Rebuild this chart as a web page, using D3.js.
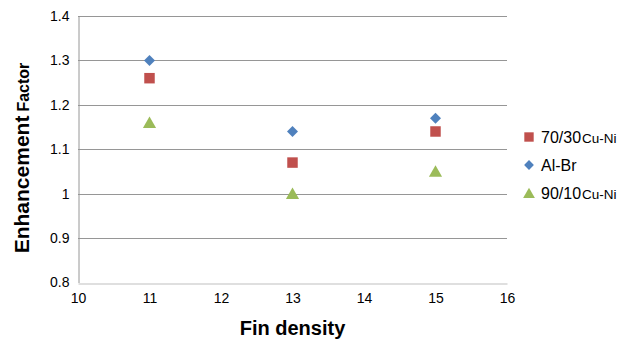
<!DOCTYPE html>
<html>
<head>
<meta charset="utf-8">
<script src="https://cdn.jsdelivr.net/npm/d3@7"></script>
<style>
  body { margin: 0; background: #fff; }
  text { font-family: "Liberation Sans", Arial, sans-serif; }
</style>
</head>
<body>
<script>
// data
const finDensity = [11, 13, 15];
const cuNi7030 = [1.26, 1.07, 1.14];
const alBr = [1.30, 1.14, 1.17];
const cuNi9010 = [1.16, 1.00, 1.05];
const xTicks = [10, 11, 12, 13, 14, 15, 16];
const yTicks = [0.8, 0.9, 1, 1.1, 1.2, 1.3, 1.4];

const w = 629, h = 344;
const padL = 78, padR = 507, padT = 16, padB = 282.5;

const red = "#C0504D", blue = "#4F81BD", green = "#9BBB59";

const svg = d3.select("body").append("svg")
  .attr("width", w).attr("height", h);

const xScale = d3.scaleLinear().domain([10, 16]).range([padL, padR]);
const yScale = d3.scaleLinear().domain([0.8, 1.4]).range([padB, padT]);

// gridlines
svg.append("g").selectAll("line")
  .data(yTicks.filter(d => d > 0.8))
  .enter().append("line")
  .attr("x1", padL).attr("x2", padR)
  .attr("y1", d => Math.round(yScale(d)) + 0.5)
  .attr("y2", d => Math.round(yScale(d)) + 0.5)
  .attr("stroke", "#969696").attr("stroke-width", 1);

// y axis
const yAxis = d3.axisLeft(yScale).tickValues(yTicks)
  .tickFormat(d => d3.format("")(d)).tickSize(0).tickPadding(9);
const gy = svg.append("g")
  .attr("transform", `translate(${padL + 0.5},0)`)
  .call(yAxis);
gy.select(".domain").attr("stroke", "#969696");
gy.selectAll("text").style("font-size", "14px").attr("fill", "#000");

// x axis
const xAxis = d3.axisBottom(xScale).tickValues(xTicks)
  .tickFormat(d3.format("d")).tickSize(0).tickPadding(10);
const gx = svg.append("g")
  .attr("transform", `translate(0,${Math.round(padB) + 0.5})`)
  .call(xAxis);
gx.select(".domain").attr("stroke", "#bfbfbf");
gx.selectAll("text").style("font-size", "14px").attr("fill", "#000");

// markers (diamond = square turned 45deg)
const series = [
  { name: "70/30", suffix: "Cu-Ni", values: cuNi7030, color: red, shape: d3.symbolSquare, size: 110, rot: 0, dy: 0 },
  { name: "Al-Br", suffix: "", values: alBr, color: blue, shape: d3.symbolSquare, size: 60, rot: 45, dy: 0 },
  { name: "90/10", suffix: "Cu-Ni", values: cuNi9010, color: green, shape: d3.symbolTriangle, size: 75, rot: 0, dy: 1.5 }
];

series.forEach(s => {
  svg.append("g").selectAll("path")
    .data(s.values)
    .enter().append("path")
    .attr("d", d3.symbol().type(s.shape).size(s.size))
    .attr("transform", (d, i) => `translate(${xScale(finDensity[i])},${yScale(d) + s.dy}) rotate(${s.rot})`)
    .attr("fill", s.color);
});

// legend
series.forEach((s, i) => {
  const ly = 137 + i * 28;
  svg.append("path")
    .attr("d", d3.symbol().type(s.shape).size(s.size * 0.8))
    .attr("transform", `translate(529,${ly + s.dy}) rotate(${s.rot})`)
    .attr("fill", s.color);
  const t = svg.append("text")
    .attr("x", 541).attr("y", ly + 6)
    .style("font-size", "16px");
  t.append("tspan").text(s.name);
  if (s.suffix) t.append("tspan").style("font-size", "13.5px").attr("dx", 1).text(s.suffix);
});

// axis titles
svg.append("text")
  .attr("x", (padL + padR) / 2).attr("y", 335)
  .attr("text-anchor", "middle")
  .style("font-size", "20px").style("font-weight", "bold")
  .text("Fin density");

const yt = svg.append("text")
  .attr("transform", `translate(29,158) rotate(-90)`)
  .attr("text-anchor", "middle")
  .style("font-weight", "bold");
yt.append("tspan").style("font-size", "21px").text("Enhancement");
yt.append("tspan").style("font-size", "16px").attr("dx", 4).text("Factor");
</script>
</body>
</html>
